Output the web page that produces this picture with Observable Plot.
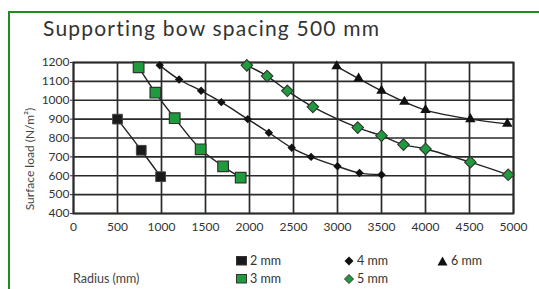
<!DOCTYPE html>
<html><head><meta charset="utf-8">
<script src="https://cdn.jsdelivr.net/npm/d3@7"></script>
<script src="https://cdn.jsdelivr.net/npm/@observablehq/plot@0.6"></script>
<style>
body{margin:0;background:#fff;font-family:Lato,"DejaVu Sans",sans-serif;color:#333}
#wrap{position:relative;width:539px;height:289px;overflow:hidden;background:#fff}
#border{position:absolute;left:8px;top:11px;width:540px;height:300px;border:2px solid #1e8c1e;box-sizing:border-box}
#title{position:absolute;left:43px;top:15px;font-size:21px;letter-spacing:1.2px;color:#333;white-space:nowrap}
#chart{position:absolute;left:0;top:45px}
#ylab{position:absolute;left:29px;top:159px;transform:translate(-50%,-50%) rotate(-90deg);font-size:12px;white-space:nowrap;color:#444}
.leg{position:absolute;font-size:12.5px;color:#333;white-space:nowrap;display:flex;align-items:center;gap:3px}
#xlab{position:absolute;left:73px;top:271px;font-size:12.5px;color:#444}
</style></head><body>
<div id="wrap">
<div id="border"></div>
<div id="title">Supporting bow spacing 500 mm</div>
<div id="chart"></div>
<div id="ylab">Surface load (N/m²)</div>
<div id="xlab">Radius (mm)</div>
<div id="legend"></div>
</div>
<script>
const xTicks = [0,500,1000,1500,2000,2500,3000,3500,4000,4500,5000];
const yTicks = [400,500,600,700,800,900,1000,1100,1200];
const seriesNames = ["2 mm","3 mm","4 mm","5 mm","6 mm"];
const r2mm = [500, 770, 990];
const q2mm = [900, 735, 595];
const r3mm = [740, 930, 1150, 1445, 1700, 1900];
const q3mm = [1175, 1040, 905, 740, 650, 590];
const r4mm = [980, 1200, 1450, 1680, 1980, 2220, 2480, 2700, 3000, 3250, 3500];
const q4mm = [1185, 1110, 1050, 990, 900, 828, 748, 700, 650, 615, 605];
const r5mm = [1970, 2200, 2430, 2720, 3230, 3500, 3750, 4000, 4510, 4940];
const q5mm = [1185, 1128, 1050, 965, 855, 812, 765, 742, 672, 605];
const r6mm = [2990, 3240, 3500, 3760, 4000, 4510, 4930];
const q6mm = [1180, 1115, 1050, 992, 948, 900, 875];

const raw = [r2mm,r3mm,r4mm,r5mm,r6mm];
const vals = [q2mm,q3mm,q4mm,q5mm,q6mm];
const data = seriesNames.flatMap((s,i)=>raw[i].map((r,j)=>({series:s,radius:r,load:vals[i][j]})));
const by = s => data.filter(d=>d.series===s);

const green = "#1f9a3c";
const dark = "#222";
const chart = Plot.plot({
  width:539, height:200,
  marginLeft:73, marginRight:26, marginTop:17, marginBottom:32,
  style:{fontFamily:"Lato, DejaVu Sans, sans-serif", fontSize:"12px", color:"#333", background:"transparent"},
  x:{domain:[0,5000], ticks:xTicks, tickSize:0, tickPadding:9, label:null},
  y:{domain:[400,1200], ticks:yTicks, tickSize:3, tickPadding:2, label:null},
  marks:[
    Plot.gridX(xTicks,{stroke:"#2a2a2a",strokeOpacity:1,strokeWidth:1.7}),
    Plot.gridY(yTicks,{stroke:"#2a2a2a",strokeOpacity:1,strokeWidth:1.7}),
    Plot.frame({stroke:"#2a2a2a",strokeWidth:1.9}),
    Plot.axisX({ticks:xTicks,tickSize:0,tickPadding:9,tickFormat:d=>String(d)}),
    Plot.axisY({ticks:yTicks,tickSize:3,tickPadding:1,tickFormat:d=>String(d)}),
    ...seriesNames.map(s=>Plot.line(by(s),{x:"radius",y:"load",stroke:dark,strokeWidth:1.4,curve:"catmull-rom"})),
    Plot.dot(by("2 mm"),{x:"radius",y:"load",symbol:"square",r:5.5,fill:"#1a1a1a",stroke:"#444",strokeWidth:1}),
    Plot.dot(by("3 mm"),{x:"radius",y:"load",symbol:"square",r:6,fill:green,stroke:"#333",strokeWidth:1.2}),
    Plot.dot(by("4 mm"),{x:"radius",y:"load",symbol:"diamond2",r:3.8,fill:"#111",stroke:"none"}),
    Plot.dot(by("5 mm"),{x:"radius",y:"load",symbol:"diamond2",r:5.2,fill:green,stroke:"#333",strokeWidth:1.1}),
    Plot.dot(by("6 mm"),{x:"radius",y:"load",symbol:"triangle2",r:5,fill:"#111",stroke:"none"})
  ]
});
document.getElementById("chart").append(chart);

const legendItems = [
  {name:seriesNames[0], x:236, y:261, sym:"sq", fill:"#1a1a1a"},
  {name:seriesNames[1], x:236, y:279, sym:"sq", fill:green},
  {name:seriesNames[2], x:344, y:261, sym:"di", fill:"#111"},
  {name:seriesNames[3], x:344, y:279, sym:"di", fill:green},
  {name:seriesNames[4], x:437, y:261, sym:"tri", fill:"#111"}
];
const leg = document.getElementById("legend");
for (const it of legendItems){
  const d = document.createElement("div");
  d.className="leg";
  d.style.left=it.x+"px"; d.style.top=(it.y-8)+"px";
  let svg;
  if(it.sym==="sq") svg=`<svg width="11" height="10"><rect x="0.5" y="0.5" width="10" height="8.5" fill="${it.fill}" stroke="#333"/></svg>`;
  else if(it.sym==="di") svg=`<svg width="10" height="10"><path d="M5,0.5L9.5,5L5,9.5L0.5,5Z" fill="${it.fill}" stroke="${it.fill===green?'#333':'none'}"/></svg>`;
  else svg=`<svg width="11" height="10"><path d="M5.5,0.5L10.5,9.5L0.5,9.5Z" fill="${it.fill}"/></svg>`;
  d.innerHTML = svg + `<span>${it.name}</span>`;
  leg.append(d);
}
</script>
</body></html>
